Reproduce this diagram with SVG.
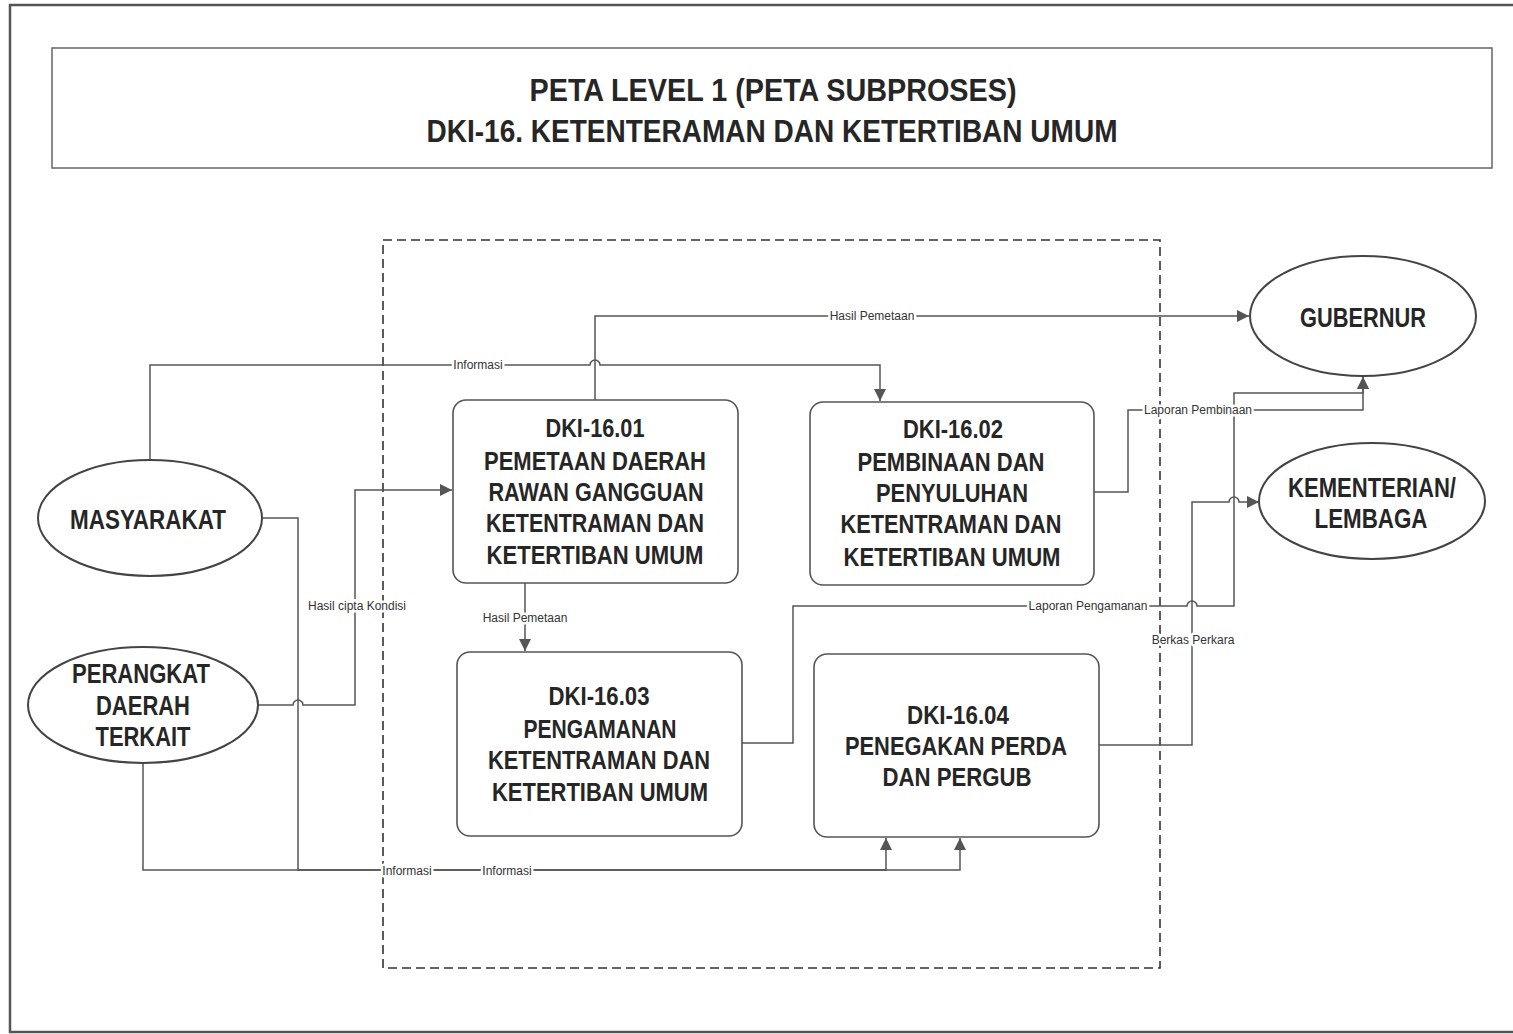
<svg xmlns="http://www.w3.org/2000/svg" width="1513" height="1034" viewBox="0 0 1513 1034">
<style>
.frame{fill:none;stroke:#555;stroke-width:2.5}
.tbox{fill:#fff;stroke:#666;stroke-width:1.5}
.dash{fill:none;stroke:#333;stroke-width:1.6;stroke-dasharray:9,5}
.ell{fill:#fff;stroke:#444;stroke-width:2}
.box{fill:#fff;stroke:#555;stroke-width:1.6}
.t{font-family:"Liberation Sans Narrow","Liberation Sans","DejaVu Sans Condensed",sans-serif;font-weight:bold;fill:#262626;text-anchor:middle}
.tt{font-size:31px}
.nt{font-size:26px}
.et{font-size:27px}
.cn{fill:none;stroke:#555;stroke-width:1.5}
.lbl{font-family:"Liberation Sans","DejaVu Sans",sans-serif;font-size:12px;fill:#333;text-anchor:middle;paint-order:stroke;stroke:#fff;stroke-width:5px;stroke-linejoin:round}
</style>
<defs>
<marker id="ar" viewBox="0 0 10 10" refX="10" refY="5" markerWidth="12" markerHeight="12" markerUnits="userSpaceOnUse" orient="auto">
<path d="M0,0 L10,5 L0,10 z" fill="#555"/>
</marker>
</defs>
<rect width="1513" height="1034" fill="#fff"/>
<rect class="frame" x="10" y="5" width="1515" height="1027"/>
<g id="title">
<rect class="tbox" x="52" y="48" width="1440" height="120"/>
<text class="t tt" x="773" y="101" textLength="487" lengthAdjust="spacingAndGlyphs">PETA LEVEL 1 (PETA SUBPROSES)</text>
<text class="t tt" x="772" y="142" textLength="691" lengthAdjust="spacingAndGlyphs">DKI-16. KETENTERAMAN DAN KETERTIBAN UMUM</text>
</g>
<rect class="dash" x="383" y="240" width="777" height="728"/>
<g id="connectors">
<path class="cn" d="M150,460 V365 H590 A5,5 0 0 1 600,365 H880 V401" marker-end="url(#ar)"/>
<path class="cn" d="M595,400 V316 H1249" marker-end="url(#ar)"/>
<path class="cn" d="M262,518 H298 V870 H886 V838" marker-end="url(#ar)"/>
<path class="cn" d="M143,763 V870 H960 V838" marker-end="url(#ar)"/>
<path class="cn" d="M258,705 H293 A5,5 0 0 1 303,705 H355 V490 H452" marker-end="url(#ar)"/>
<path class="cn" d="M525,583 V651" marker-end="url(#ar)"/>
<path class="cn" d="M1094,492 H1128 V410 H1363 V377" marker-end="url(#ar)"/>
<path class="cn" d="M742,743 H793 V606 H1187 A5,5 0 0 1 1197,606 H1234 V393 H1363 V377" marker-end="url(#ar)"/>
<path class="cn" d="M1099,745 H1192 V502 H1229 A5,5 0 0 1 1239,502 H1259" marker-end="url(#ar)"/>
<text class="lbl" x="478" y="369">Informasi</text>
<text class="lbl" x="872" y="320">Hasil Pemetaan</text>
<text class="lbl" x="1198" y="414">Laporan Pembinaan</text>
<text class="lbl" x="1088" y="610">Laporan Pengamanan</text>
<text class="lbl" x="1193" y="644">Berkas Perkara</text>
<text class="lbl" x="357" y="610">Hasil cipta Kondisi</text>
<text class="lbl" x="525" y="622">Hasil Pemetaan</text>
<text class="lbl" x="407" y="875">Informasi</text>
<text class="lbl" x="507" y="875">Informasi</text>
</g>
<g id="masyarakat">
<ellipse class="ell" cx="150" cy="518" rx="112" ry="58"/>
<text class="t et" x="148" y="529" textLength="156" lengthAdjust="spacingAndGlyphs">MASYARAKAT</text>
</g>
<g id="perangkat">
<ellipse class="ell" cx="143" cy="705" rx="115" ry="58"/>
<text class="t et" x="141" y="683" textLength="138" lengthAdjust="spacingAndGlyphs">PERANGKAT</text>
<text class="t et" x="143" y="715" textLength="94" lengthAdjust="spacingAndGlyphs">DAERAH</text>
<text class="t et" x="143" y="746" textLength="95" lengthAdjust="spacingAndGlyphs">TERKAIT</text>
</g>
<g id="gubernur">
<ellipse class="ell" cx="1363" cy="316" rx="113" ry="60"/>
<text class="t et" x="1363" y="327" textLength="126" lengthAdjust="spacingAndGlyphs">GUBERNUR</text>
</g>
<g id="kementerian">
<ellipse class="ell" cx="1372" cy="501" rx="113" ry="58"/>
<text class="t et" x="1372" y="497" textLength="168" lengthAdjust="spacingAndGlyphs">KEMENTERIAN/</text>
<text class="t et" x="1371" y="528" textLength="113" lengthAdjust="spacingAndGlyphs">LEMBAGA</text>
</g>
<g id="dki1601">
<rect class="box" x="453" y="400" width="285" height="183" rx="13"/>
<text class="t nt" x="595" y="437" textLength="99" lengthAdjust="spacingAndGlyphs">DKI-16.01</text>
<text class="t nt" x="595" y="470" textLength="222" lengthAdjust="spacingAndGlyphs">PEMETAAN DAERAH</text>
<text class="t nt" x="596" y="501" textLength="215" lengthAdjust="spacingAndGlyphs">RAWAN GANGGUAN</text>
<text class="t nt" x="595" y="532" textLength="218" lengthAdjust="spacingAndGlyphs">KETENTRAMAN DAN</text>
<text class="t nt" x="595" y="564" textLength="217" lengthAdjust="spacingAndGlyphs">KETERTIBAN UMUM</text>
</g>
<g id="dki1602">
<rect class="box" x="810" y="402" width="284" height="183" rx="13"/>
<text class="t nt" x="953" y="438" textLength="100" lengthAdjust="spacingAndGlyphs">DKI-16.02</text>
<text class="t nt" x="951" y="471" textLength="187" lengthAdjust="spacingAndGlyphs">PEMBINAAN DAN</text>
<text class="t nt" x="952" y="502" textLength="152" lengthAdjust="spacingAndGlyphs">PENYULUHAN</text>
<text class="t nt" x="951" y="533" textLength="221" lengthAdjust="spacingAndGlyphs">KETENTRAMAN DAN</text>
<text class="t nt" x="952" y="566" textLength="217" lengthAdjust="spacingAndGlyphs">KETERTIBAN UMUM</text>
</g>
<g id="dki1603">
<rect class="box" x="457" y="652" width="285" height="184" rx="13"/>
<text class="t nt" x="599" y="705" textLength="101" lengthAdjust="spacingAndGlyphs">DKI-16.03</text>
<text class="t nt" x="600" y="738" textLength="153" lengthAdjust="spacingAndGlyphs">PENGAMANAN</text>
<text class="t nt" x="599" y="769" textLength="222" lengthAdjust="spacingAndGlyphs">KETENTRAMAN DAN</text>
<text class="t nt" x="600" y="801" textLength="216" lengthAdjust="spacingAndGlyphs">KETERTIBAN UMUM</text>
</g>
<g id="dki1604">
<rect class="box" x="814" y="654" width="285" height="183" rx="13"/>
<text class="t nt" x="958" y="724" textLength="102" lengthAdjust="spacingAndGlyphs">DKI-16.04</text>
<text class="t nt" x="956" y="755" textLength="222" lengthAdjust="spacingAndGlyphs">PENEGAKAN PERDA</text>
<text class="t nt" x="957" y="786" textLength="149" lengthAdjust="spacingAndGlyphs">DAN PERGUB</text>
</g>
</svg>
